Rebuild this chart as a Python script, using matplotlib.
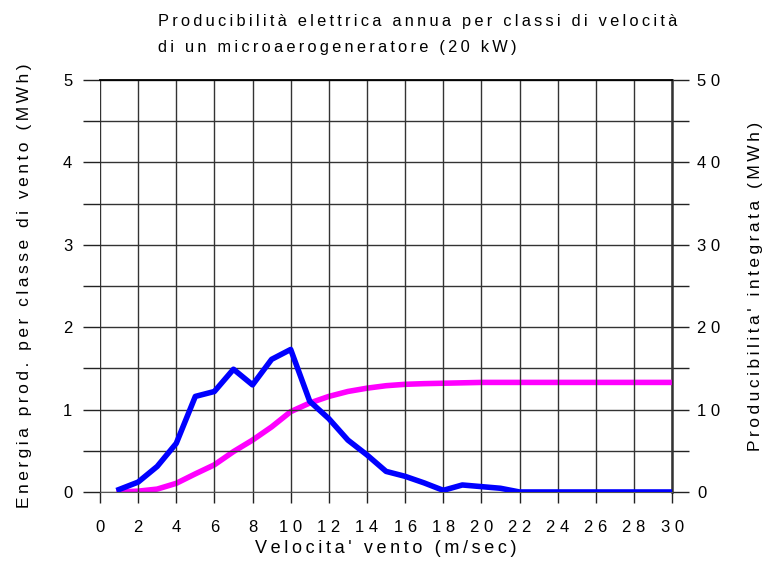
import numpy as np
import matplotlib.pyplot as plt
from matplotlib.ticker import MultipleLocator

plt.rcParams['font.family'] = ['Liberation Sans', 'DejaVu Sans']

# velocita' del vento (m/sec)
velocita = list(range(1, 31))

# energia prodotta per classe di vento (MWh)
energia_classe = [0.03, 0.12, 0.31, 0.59, 1.16, 1.22, 1.49, 1.30, 1.61, 1.73,
                  1.10, 0.89, 0.63, 0.45, 0.25, 0.19, 0.11, 0.02, 0.085, 0.065,
                  0.045, 0.0, 0.0, 0.0, 0.0, 0.0, 0.0, 0.0, 0.0, 0.0]

# producibilita' integrata (MWh)
energia_integrata = [0.0, 0.1, 0.35, 1.05, 2.2, 3.3, 4.9, 6.3, 7.9, 9.75,
                     10.8, 11.6, 12.2, 12.6, 12.9, 13.07, 13.15, 13.2, 13.25, 13.3,
                     13.3, 13.3, 13.3, 13.3, 13.3, 13.3, 13.3, 13.3, 13.3, 13.3]

x_ticks = list(range(0, 31, 2))
y_left_ticks = [0, 1, 2, 3, 4, 5]
y_right_ticks = [0, 10, 20, 30, 40, 50]


def spazia(testo):
    # lettere distanziate (spazio sottile) come nell'originale
    return '\u2009'.join(testo)


fig = plt.figure(figsize=(7.69, 5.64), dpi=100)
ax = fig.add_axes([0.130, 0.1277, 0.744, 0.7303])
ax2 = ax.twinx()

ax.plot(velocita, energia_classe, color='#0000ff', linewidth=4.0, zorder=4)
ax2.plot(velocita, energia_integrata, color='#ff00ff', linewidth=4.0, zorder=3)
ax.set_zorder(ax2.get_zorder() + 1)
ax.patch.set_visible(False)

ax.set_xlim(0, 30)
ax.set_ylim(0, 5)
ax2.set_ylim(0, 50)

# griglia
ax.set_xticks(x_ticks)
ax.set_xticklabels([' '.join(str(v)) for v in x_ticks])
ax.set_yticks(y_left_ticks)
ax.set_yticklabels([str(v) for v in y_left_ticks])
ax.yaxis.set_minor_locator(MultipleLocator(0.5))
ax2.set_yticks(y_right_ticks)
ax2.set_yticklabels([' '.join(str(v)) for v in y_right_ticks])
ax2.yaxis.set_minor_locator(MultipleLocator(5))

ax.grid(True, which='both', color='#333333', linewidth=1.0)
ax.set_axisbelow(True)

for a in (ax, ax2):
    a.tick_params(which='both', direction='out', length=12, width=1.0, color='#222222',
                  labelsize=12, pad=8)
    for s in a.spines.values():
        s.set_visible(False)
ax.spines['top'].set_visible(True)
ax.spines['top'].set_linewidth(1.3)
ax.spines['bottom'].set_visible(True)
ax.spines['bottom'].set_color('#555555')
ax2.spines['right'].set_visible(True)
ax2.spines['right'].set_linewidth(1.8)
ax2.spines['right'].set_color('#333333')
ax.tick_params(axis='x', length=8, pad=12)
ax2.tick_params(axis='y', pad=6)

ax.set_xlabel(spazia("Velocita' vento (m/sec)"), fontsize=13, labelpad=4)
ax.set_ylabel(spazia("Energia prod. per classe di vento (MWh)"), fontsize=12.5, labelpad=22)
ax2.set_ylabel(spazia("Producibilita' integrata (MWh)"), fontsize=12.5, labelpad=20)

fig.text(0.205, 0.962, spazia("Producibilità elettrica annua per classi di velocità"),
         fontsize=11.8, ha='left', va='center')
fig.text(0.205, 0.915, spazia("di un microaerogeneratore (20 kW)"),
         fontsize=11.8, ha='left', va='center')

plt.savefig('out.png', dpi=100)
